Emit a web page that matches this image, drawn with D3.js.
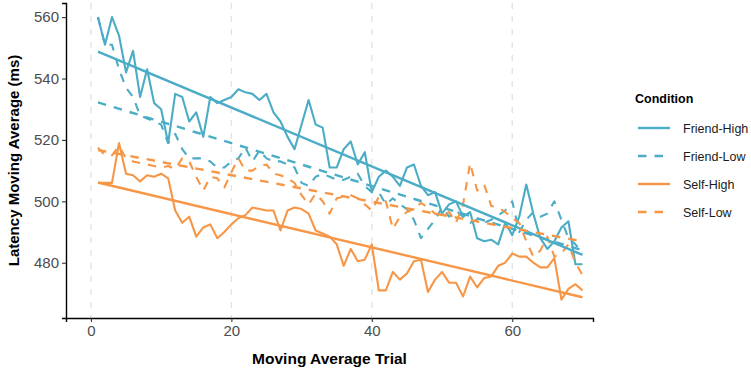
<!DOCTYPE html>
<html>
<head>
<meta charset="utf-8">
<script src="https://cdn.jsdelivr.net/npm/d3@7"></script>
<style>
  body { margin: 0; background: #fff; }
  svg { font-family: 'Liberation Sans', Arial, sans-serif; }
</style>
</head>
<body>
<svg width="751" height="372"></svg>
<script>
// Data
const conditions = ['Friend-High', 'Friend-Low', 'Self-High', 'Self-Low'];

const friendHigh = [
  560, 551, 560, 554, 542, 549, 534, 543, 532, 530,
  519, 535, 534, 526, 529, 521, 534, 532, 533, 534,
  536.5, 535.5, 535, 533, 535, 529, 526, 521, 517, 525,
  533, 525, 524, 511, 511, 517, 519.5, 512, 516, 503,
  508, 510, 508, 505, 511, 512, 505, 502, 503, 496,
  499, 500, 495, 496.5, 488, 487, 487.5, 486, 493, 489,
  495, 505.5, 496, 488, 484.5, 487, 491.5, 493.5, 479.5, 479.5
];
const friendLow = [
  560, 551, 551, 543, 537, 534, 528, 527, 526, 525,
  519, 522, 517, 514, 514, 514, 513, 511, 511, 513,
  514, 517.5, 513, 516.5, 514, 513, 513, 512, 511, 506,
  505, 508, 509, 508, 507, 507, 508, 509, 505, 503,
  503, 499, 501, 499, 497.5, 494, 488, 491, 494, 498,
  495, 497, 495, 493, 494, 493, 494, 495.5, 497, 500,
  490, 494, 496.5, 495, 496, 500, 494, 488, 486, 483
];
const selfHigh = [
  506, 506, 506, 519, 509, 508.5, 506.5, 508.5, 508, 509,
  507.5, 497, 493, 495, 488.5, 491.5, 492.5, 488, 490, 492.5,
  494.5, 495.5, 498, 497.5, 497, 497, 490.5, 497, 498, 497.5,
  496, 490.5, 489.5, 488.5, 486, 479, 484.5, 480.5, 481, 486,
  471, 471, 477, 474.5, 476.5, 480.5, 481, 470.5, 474.5, 477,
  473.5, 473.5, 469, 475.5, 472, 475, 475.5, 479, 480, 483,
  482, 482, 480, 478.5, 478.5, 481.5, 468, 471.5, 473, 471
];
const selfLow = [
  517.5, 515, 515, 518, 514, 513, 512.5, 512, 511.5, 511,
  511.5, 510.5, 514, 513, 508, 503.5, 508, 507.5, 504.5, 509.5,
  514, 510, 510, 511.5, 512, 509, 508.5, 507.5, 506, 502,
  499, 502.5, 500, 496, 501, 501.5, 502, 501, 499, 497,
  501.5, 500, 491, 495, 496.5, 497.5, 499.5, 498, 496, 495.5,
  496.5, 493, 499, 512.5, 503.5, 505.5, 498.5, 498, 496.5, 494.5,
  493, 487, 482, 484, 488.5, 482, 483, 486, 480, 476
];
const seriesValues = [friendHigh, friendLow, selfHigh, selfLow];

const xTicks = [0, 20, 40, 60];
const yTicks = [480, 500, 520, 540, 560];

// The svg
const svg = d3.select('svg'),
  width = +svg.attr('width'),
  height = +svg.attr('height');

const panel = { left: 66, right: 593, top: 3, bottom: 318 };

const x = d3.scaleLinear().domain([-3.55, 71.5]).range([panel.left, panel.right]);
const y = d3.scaleLinear().domain([462, 564.6]).range([panel.bottom, panel.top]);

const color = d3.scaleOrdinal()
  .domain(conditions)
  .range(['#4bacc6', '#4bacc6', '#f79646', '#f79646']);
const dash = d3.scaleOrdinal()
  .domain(conditions)
  .range(['none', '8.5,8', 'none', '8.5,8']);

const series = conditions.map(function (c, i) {
  return {
    name: c,
    values: seriesValues[i].map(function (v, j) { return { t: j + 1, v: v }; })
  };
});

// vertical grid
svg.append('g')
  .selectAll('line')
  .data(xTicks)
  .enter()
  .append('line')
  .attr('x1', d => x(d))
  .attr('x2', d => x(d))
  .attr('y1', panel.top)
  .attr('y2', panel.bottom)
  .style('stroke', '#e3e3e3')
  .style('stroke-width', 1.4)
  .style('stroke-dasharray', '6,7');

// lines
const line = d3.line()
  .x(d => x(d.t))
  .y(d => y(d.v));

svg.append('g')
  .selectAll('path')
  .data(series)
  .enter()
  .append('path')
  .attr('d', d => line(d.values))
  .style('fill', 'none')
  .style('stroke', d => color(d.name))
  .style('stroke-width', 2.1)
  .style('stroke-linejoin', 'round')
  .style('stroke-dasharray', d => dash(d.name));

// linear fits (like geom_smooth method = lm)
function fit(values) {
  const mt = d3.mean(values, d => d.t);
  const mv = d3.mean(values, d => d.v);
  const b = d3.sum(values, d => (d.t - mt) * (d.v - mv)) /
    d3.sum(values, d => (d.t - mt) * (d.t - mt));
  const a = mv - b * mt;
  const ext = d3.extent(values, d => d.t);
  return ext.map(t => ({ t: t, v: a + b * t }));
}

svg.append('g')
  .selectAll('path')
  .data(series)
  .enter()
  .append('path')
  .attr('d', d => line(fit(d.values)))
  .style('fill', 'none')
  .style('stroke', d => color(d.name))
  .style('stroke-width', 2.4)
  .style('stroke-dasharray', d => dash(d.name));

// axes
const xAxis = svg.append('g')
  .attr('transform', `translate(0, ${panel.bottom})`)
  .call(d3.axisBottom(x).tickValues(xTicks).tickSize(4).tickPadding(3));
const yAxis = svg.append('g')
  .attr('transform', `translate(${panel.left}, 0)`)
  .call(d3.axisLeft(y).tickValues(yTicks).tickSize(4).tickPadding(3));

[xAxis, yAxis].forEach(function (g) {
  g.select('.domain').style('stroke', '#000').style('stroke-width', 1.4);
  g.selectAll('.tick line').style('stroke', '#333').style('stroke-width', 1.1);
  g.selectAll('.tick text')
    .style('fill', '#4d4d4d')
    .style('font-size', '15px')
    .style('font-family', "'Liberation Sans', Arial, sans-serif");
});

// axis titles
svg.append('text')
  .attr('x', (panel.left + panel.right) / 2)
  .attr('y', 364)
  .attr('text-anchor', 'middle')
  .style('font-size', '15.5px')
  .style('font-weight', 'bold')
  .text('Moving Average Trial');

svg.append('text')
  .attr('transform', `translate(19, ${(panel.top + panel.bottom) / 2}) rotate(-90)`)
  .attr('text-anchor', 'middle')
  .style('font-size', '15px')
  .style('font-weight', 'bold')
  .text('Latency Moving Average (ms)');

// legend
const legend = svg.append('g').attr('transform', 'translate(635, 0)');
legend.append('text')
  .attr('x', 0)
  .attr('y', 103)
  .style('font-size', '12.5px')
  .style('font-weight', 'bold')
  .text('Condition');

const item = legend.selectAll('.item')
  .data(conditions)
  .enter()
  .append('g')
  .attr('class', 'item')
  .attr('transform', (d, i) => `translate(0, ${128 + i * 28})`);

item.append('line')
  .attr('x1', 3)
  .attr('x2', 35)
  .style('stroke', d => color(d))
  .style('stroke-width', 2.4)
  .style('stroke-dasharray', d => dash(d));

item.append('text')
  .attr('x', 48)
  .attr('y', 4.5)
  .style('font-size', '12.5px')
  .style('fill', '#1a1a1a')
  .text(d => d);
</script>
</body>
</html>
